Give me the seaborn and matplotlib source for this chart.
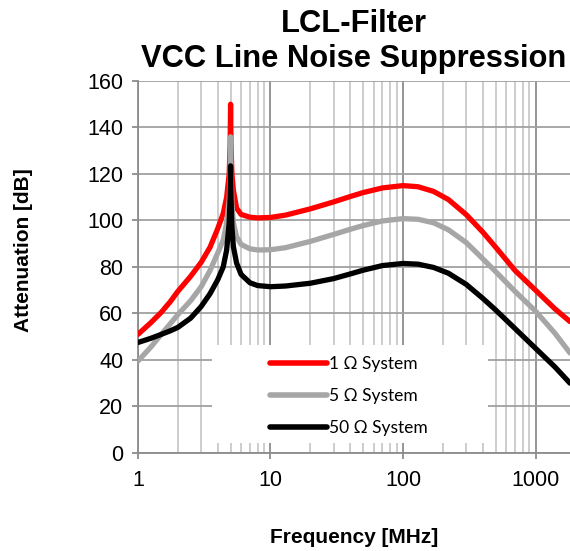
import matplotlib
matplotlib.use("Agg")
import matplotlib.pyplot as plt
import matplotlib.ticker as mticker
from matplotlib.patches import Rectangle
import numpy as np
import pandas as pd
import seaborn as sns

# ---- data ----
freq_mhz = [1, 1.25, 1.5, 1.75, 2, 2.5, 3, 3.5, 4, 4.4, 4.67, 4.88, 4.96, 5.0, 5.04,
            5.12, 5.25, 5.55, 6, 7, 8, 10, 13, 20, 30, 40, 50, 70, 100, 130, 170, 220,
            300, 400, 500, 700, 1000, 1400, 1820]
att_1ohm = [51, 56, 60.5, 65, 69.5, 76, 82, 88.5, 96.5, 103, 110, 120, 132, 150, 132,
            120, 113, 105.3, 102.6, 101.4, 101.1, 101.3, 102.3, 105, 108, 110.3, 112,
            114, 115, 114.5, 112.5, 109, 102.5, 95, 88.5, 78.5, 70, 62, 56.5]
att_5ohm = [39.5, 45.5, 51, 55.5, 59.5, 65.5, 71.5, 78.5, 86, 91.6, 99, 108.8, 120, 136,
            120, 107, 99, 93, 89.7, 87.8, 87.3, 87.4, 88.3, 91, 94, 96.2, 97.8, 99.8,
            100.8, 100.5, 99, 96, 90.5, 83.5, 78, 69.5, 61, 51.5, 43]
att_50ohm = [47.5, 49.3, 51, 52.5, 54, 58, 63, 68.5, 74.5, 80, 87.3, 99, 110, 123.5, 110,
             97, 88.7, 81.7, 76.8, 73.2, 72, 71.5, 71.8, 73, 75, 77, 78.6, 80.6, 81.5,
             81.2, 79.8, 77.3, 72.5, 66.5, 61.5, 53.5, 45, 37, 30]
series_names = ["1 \u03a9 System", "5 \u03a9 System", "50 \u03a9 System"]
series_colors = ["#ff0000", "#a6a6a6", "#000000"]
x_tick_values = [1, 10, 100, 1000]
x_tick_labels = ["1", "10", "100", "1000"]
y_tick_values = [0, 20, 40, 60, 80, 100, 120, 140, 160]
title_text = "LCL-Filter\nVCC Line Noise Suppression"
x_label = "Frequency [MHz]"
y_label = "Attenuation [dB]"

df = pd.concat([
    pd.DataFrame({"Frequency": freq_mhz, "Attenuation": vals, "Series": name})
    for name, vals in zip(series_names, [att_1ohm, att_5ohm, att_50ohm])
], ignore_index=True)

sns.set_theme(style="white")
plt.rcParams["font.family"] = ["Liberation Sans", "DejaVu Sans"]
plt.rcParams["text.color"] = "black"
plt.rcParams["axes.labelcolor"] = "black"

fig = plt.figure(figsize=(5.70, 5.51), dpi=100)
ax = fig.add_axes([0.242, 0.178, 0.758, 0.675])

sns.lineplot(data=df, x="Frequency", y="Attenuation", hue="Series",
             palette=dict(zip(series_names, series_colors)), hue_order=series_names,
             linewidth=3.8, ax=ax, legend=True, zorder=3)
for ln in ax.get_lines():
    ln.set_solid_capstyle("round")
    ln.set_solid_joinstyle("round")

ax.set_xscale("log")
ax.set_xlim(1, 1820)
ax.set_ylim(0, 160)
ax.set_xticks(x_tick_values, labels=x_tick_labels)
ax.xaxis.set_minor_locator(mticker.LogLocator(base=10, subs=np.arange(2, 10)))
ax.xaxis.set_minor_formatter(mticker.NullFormatter())
ax.set_yticks(y_tick_values)

ax.set_axisbelow(True)
ax.grid(True, which="major", axis="x", color="#8c8c8c", linewidth=1.3)
ax.grid(True, which="minor", axis="x", color="#c0c0c0", linewidth=1.1)
ax.grid(True, which="major", axis="y", color="#a0a0a0", linewidth=1.3)

for side in ["top", "right"]:
    ax.spines[side].set_visible(False)
for side in ["left", "bottom"]:
    ax.spines[side].set_color("#8c8c8c")
    ax.spines[side].set_linewidth(1.3)

ax.tick_params(axis="both", which="major", labelsize=15.5, colors="#8c8c8c",
               labelcolor="black", width=1.3)
ax.tick_params(axis="y", which="major", direction="out", length=4.5, pad=6, left=True)
ax.tick_params(axis="x", which="major", direction="out", length=4, pad=8, bottom=True)
ax.tick_params(axis="x", which="minor", length=0)

ax.set_xlabel(x_label, fontsize=15, fontweight="bold", labelpad=27)
ax.set_ylabel(y_label, fontsize=15, fontweight="bold")
ax.yaxis.set_label_coords(-0.243, 0.546)
ax.set_title(title_text, fontsize=22.2, fontweight="bold", pad=10, linespacing=1.22)

# white legend area
ax.add_patch(Rectangle((0.171, 0.027), 0.639, 0.263, transform=ax.transAxes,
                       facecolor="white", edgecolor="none", zorder=1))
handles, labels = ax.get_legend_handles_labels()
leg = ax.legend(handles, labels, loc="center", bbox_to_anchor=(0.488, 0.153),
                frameon=False, prop={"family": "Lato", "size": 12.5},
                handlelength=3.3, handletextpad=0.1, labelspacing=0.92)
for h in leg.legend_handles:
    h.set_linewidth(4)
    h.set_solid_capstyle("round")

fig.savefig("out.png", dpi=100)
